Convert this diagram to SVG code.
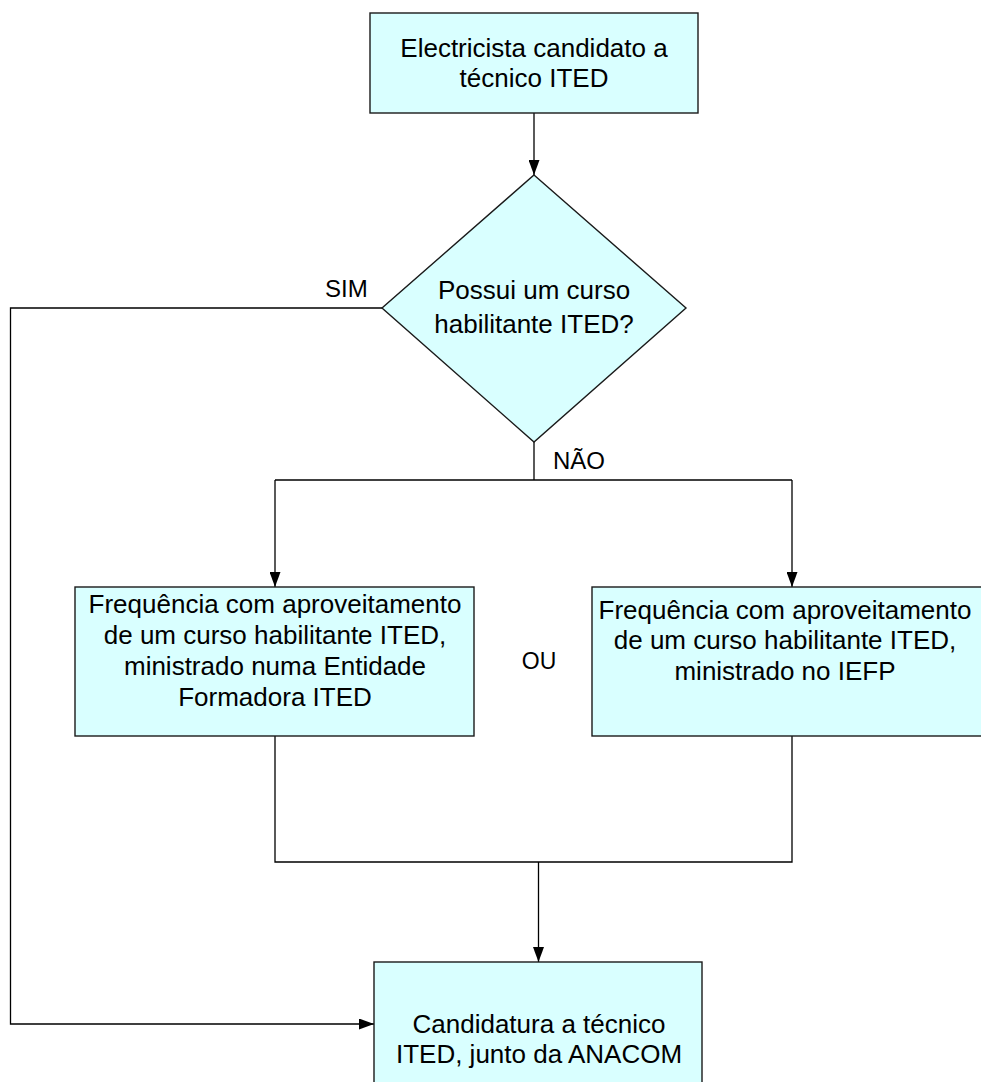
<svg xmlns="http://www.w3.org/2000/svg" width="981" height="1082" viewBox="0 0 981 1082">
  <style>
    .box { fill: #D9FFFF; stroke: #1a1a1a; stroke-width: 1.4; }
    .t { font-family: "Liberation Sans", Arial, sans-serif; font-size: 26px; fill: #000; text-anchor: middle; }
    .lbl { font-family: "Liberation Sans", Arial, sans-serif; font-size: 24px; fill: #000; }
    .conn { fill: none; stroke: #000; stroke-width: 1.3; }
  </style>
  <defs>
    <marker id="arr" markerUnits="userSpaceOnUse" markerWidth="15" markerHeight="11" refX="15" refY="5.5" orient="auto">
      <path d="M0,0 L15,5.5 L0,11 Z" fill="#000"/>
    </marker>
  </defs>
  <rect width="981" height="1082" fill="#fff"/>

  <g id="connectors">
    <path class="conn" d="M534,113 V175" marker-end="url(#arr)"/>
    <path class="conn" d="M382,308 H10.5 V1024 H374" marker-end="url(#arr)"/>
    <path class="conn" d="M534,442 V480"/>
    <path class="conn" d="M275,480 H792"/>
    <path class="conn" d="M275,480 V587" marker-end="url(#arr)"/>
    <path class="conn" d="M792,480 V587" marker-end="url(#arr)"/>
    <path class="conn" d="M275,736 V862 H792 V736"/>
    <path class="conn" d="M538.5,862 V962" marker-end="url(#arr)"/>
    <text class="lbl" x="325" y="297">SIM</text>
    <text class="lbl" x="553" y="469">NÃO</text>
    <text class="lbl" x="539" y="669" text-anchor="middle" style="font-size:23px">OU</text>
  </g>

  <g id="start">
    <rect class="box" x="370" y="13" width="328" height="100"/>
    <text class="t" x="534" y="57">Electricista candidato a</text>
    <text class="t" x="534" y="87">técnico ITED</text>
  </g>

  <g id="decision">
    <polygon class="box" points="534,175 686,308 534,442 382,308"/>
    <text class="t" x="534" y="299">Possui um curso</text>
    <text class="t" x="534" y="333">habilitante ITED?</text>
  </g>

  <g id="entidade">
    <rect class="box" x="75" y="587" width="399" height="149"/>
    <text class="t" x="275" y="613">Frequência com aproveitamento</text>
    <text class="t" x="275" y="644">de um curso habilitante ITED,</text>
    <text class="t" x="275" y="675">ministrado numa Entidade</text>
    <text class="t" x="275" y="706">Formadora ITED</text>
  </g>

  <g id="iefp">
    <rect class="box" x="592" y="587" width="400" height="149"/>
    <text class="t" x="785" y="619">Frequência com aproveitamento</text>
    <text class="t" x="785" y="649">de um curso habilitante ITED,</text>
    <text class="t" x="785" y="680">ministrado no IEFP</text>
  </g>

  <g id="candidatura">
    <rect class="box" x="374" y="962" width="328" height="140"/>
    <text class="t" x="539" y="1033">Candidatura a técnico</text>
    <text class="t" x="539" y="1063">ITED, junto da ANACOM</text>
  </g>
</svg>
